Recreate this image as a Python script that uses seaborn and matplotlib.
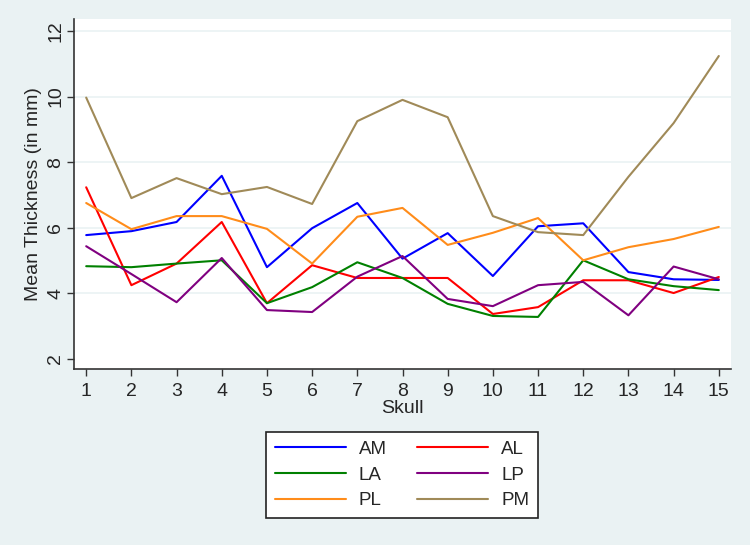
"""
Mean skull thickness per site, Stata-like line chart
"""

import pandas as pd
import seaborn as sns
import matplotlib.pyplot as plt

skull = list(range(1, 16))
am = [5.77, 5.89, 6.17, 7.58, 4.79, 5.98, 6.75, 5.05, 5.83, 4.52, 6.04, 6.13, 4.64, 4.42, 4.40]
al = [7.23, 4.24, 4.90, 6.17, 3.69, 4.85, 4.46, 4.46, 4.46, 3.36, 3.57, 4.39, 4.39, 4.00, 4.49]
la = [4.82, 4.79, 4.90, 5.00, 3.69, 4.18, 4.94, 4.46, 3.67, 3.30, 3.27, 5.00, 4.42, 4.21, 4.09]
lp = [5.43, 4.58, 3.72, 5.07, 3.48, 3.42, 4.50, 5.13, 3.82, 3.60, 4.24, 4.34, 3.32, 4.81, 4.42]
pl = [6.75, 5.95, 6.35, 6.35, 5.96, 4.90, 6.33, 6.60, 5.47, 5.84, 6.29, 5.00, 5.40, 5.65, 6.02]
pm = [9.97, 6.90, 7.51, 7.02, 7.24, 6.72, 9.25, 9.90, 9.37, 6.35, 5.86, 5.77, 7.55, 9.19, 11.24]

sites = ["AM", "AL", "LA", "LP", "PL", "PM"]
colors = ["#0000ff", "#ff0000", "#008000", "#800080", "#ff8c1a", "#a08a58"]

df = pd.DataFrame({"Skull": skull, "AM": am, "AL": al, "LA": la,
                   "LP": lp, "PL": pl, "PM": pm})
long = df.melt(id_vars="Skull", var_name="Site", value_name="Thickness")

sns.set_style("white")
plt.rcParams["font.family"] = ["Liberation Sans", "DejaVu Sans"]

bg = "#eaf2f3"
fig = plt.figure(figsize=(7.5, 5.45), dpi=100, facecolor=bg)
ax = fig.add_axes([74 / 750, 1 - 369 / 545, 657 / 750, 350 / 545])

sns.lineplot(data=long, x="Skull", y="Thickness", hue="Site",
             hue_order=sites, palette=colors, linewidth=1.5, ax=ax)

ax.set_xlim(0.73, 15.27)
ax.set_ylim(1.68, 12.37)
ax.set_xticks(skull)
ax.set_yticks([2, 4, 6, 8, 10, 12])
ax.set_yticklabels(["2", "4", "6", "8", "10", "12"], rotation=90, va="center")
for y in [4, 6, 8, 10, 12]:
    ax.axhline(y, color=bg, linewidth=1.2, zorder=0)

ax.tick_params(axis="both", direction="out", length=5, width=1,
               color="#333333", labelsize=14, bottom=True, left=True)
ax.tick_params(axis="x", pad=5)
ax.tick_params(axis="y", pad=2)
for side in ["top", "right"]:
    ax.spines[side].set_visible(False)
for side in ["left", "bottom"]:
    ax.spines[side].set_color("#333333")
    ax.spines[side].set_linewidth(1.2)

ax.set_xlabel("Skull", fontsize=14, labelpad=0)
ax.set_ylabel("Mean Thickness (in mm)", fontsize=14)
ax.yaxis.set_label_coords(-0.048, 0.5)

# legend rows: AM AL / LA LP / PL PM
handles, labels = ax.get_legend_handles_labels()
order = [0, 2, 4, 1, 3, 5]
ax.legend([handles[i] for i in order], [labels[i] for i in order], ncol=2,
          loc="center", bbox_to_anchor=(402 / 750, 1 - 475 / 545),
          bbox_transform=fig.transFigure, frameon=True, fancybox=False,
          edgecolor="#222222", fontsize=13.5, handlelength=3.8, columnspacing=1.6,
          handletextpad=0.7, labelspacing=0.45, borderpad=0.45, framealpha=1)
ax.get_legend().get_frame().set_linewidth(1.2)

fig.savefig("out.png", dpi=100, facecolor=bg)
